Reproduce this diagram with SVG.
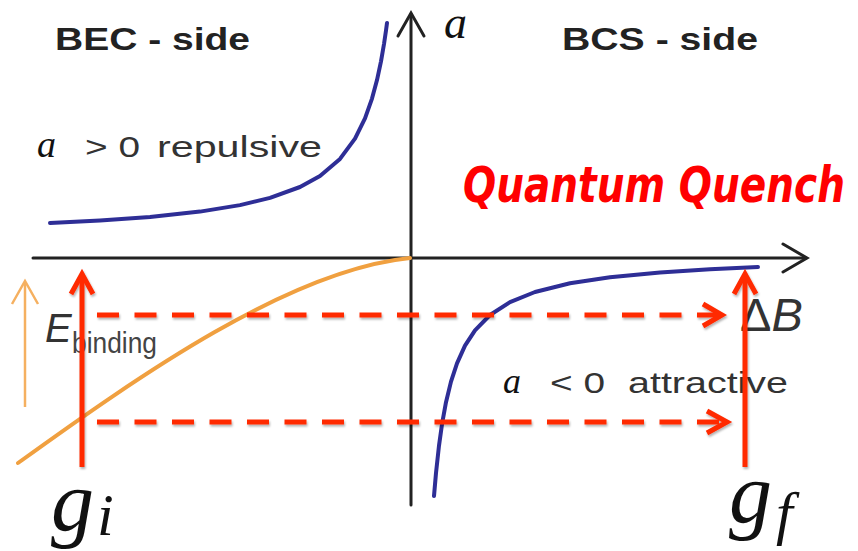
<svg xmlns="http://www.w3.org/2000/svg" width="858" height="551" viewBox="0 0 858 551">
<defs>
<style>
.axis{stroke:#222;stroke-width:3;fill:none;stroke-linecap:round;stroke-linejoin:miter}
.blue{stroke:#2e2e96;stroke-width:4;fill:none;stroke-linejoin:round;stroke-linecap:round}
.orange{stroke:#f0a040;stroke-width:4;fill:none;stroke-linecap:round}
.oarrow{stroke:#f5b060;stroke-width:2.5;fill:none}
.red{stroke:#ff2a00;stroke-width:5;fill:none}
.dash{stroke-dasharray:22 15.5}
.hdr{font-family:"Liberation Sans",Arial,sans-serif;font-weight:bold;font-size:32px;fill:#222}
.lbl{font-family:"Liberation Sans",Arial,sans-serif;font-size:30px;fill:#333}
.math{font-family:"Liberation Serif","Times New Roman",serif;font-style:italic;fill:#111}
</style>
<filter id="sh" x="-10%" y="-10%" width="120%" height="130%">
<feDropShadow dx="1" dy="2" stdDeviation="1.2" flood-color="#000" flood-opacity="0.3"/>
</filter>
</defs>
<rect width="858" height="551" fill="#fff"/>
<g id="axes">
<line class="axis" x1="33" y1="258" x2="806" y2="258"/>
<polyline class="axis" points="783,244 807,258 783,272"/>
<line class="axis" x1="411" y1="505" x2="411" y2="14"/>
<polyline class="axis" points="398,36 411,13 424,36"/>
</g>
<g id="curves">
<polyline class="blue" points="50,223 100,220.5 150,216.9 200,211.6 240,205.1 270,197.9 300,187 320,175.9 340,158.9 355,138.6 365,118.4 372,98.6 377,80.1 381,61.3 384,44 386,30.5 387,23"/>
<polyline class="blue" points="434,496 436,473 439,445.6 442,424.2 446,402.2 451,381.6 457,363.3 465,345.7 475,330.4 490,315 510,302.1 535,292 570,283.3 610,277.2 660,272.4 710,269.2 758,267"/>
<path class="orange" d="M18,463 C140,375 290,270 410,258"/>
<line class="oarrow" x1="25" y1="407" x2="25" y2="282"/>
<polyline class="oarrow" points="12,304 25,281 38,304"/>
</g>
<g id="labels">
<text class="hdr" x="55" y="50" textLength="195" lengthAdjust="spacingAndGlyphs">BEC - side</text>
<text class="hdr" x="562" y="50" textLength="196" lengthAdjust="spacingAndGlyphs">BCS - side</text>
<text class="math" x="444" y="38" font-size="46" fill="#222">a</text>
<text class="math" x="37" y="157" font-size="38" fill="#333">a</text>
<text class="lbl" x="85" y="157" textLength="55" lengthAdjust="spacingAndGlyphs">&gt; 0</text>
<text class="lbl" x="157" y="157" textLength="165" lengthAdjust="spacingAndGlyphs">repulsive</text>
<text class="math" x="503" y="393" font-size="36" fill="#666">a</text>
<text class="lbl" x="550" y="393" fill="#555" textLength="55" lengthAdjust="spacingAndGlyphs">&lt; 0</text>
<text class="lbl" x="628" y="393" fill="#555" textLength="160" lengthAdjust="spacingAndGlyphs">attractive</text>
<text x="740" y="331" font-family="Liberation Sans,Arial,sans-serif" font-size="47" fill="#333">Δ<tspan font-style="italic">B</tspan></text>
<text x="45" y="342" font-family="Liberation Sans,Arial,sans-serif" font-size="40" font-style="italic" fill="#333">E</text>
<text x="72" y="353" font-family="Liberation Sans,Arial,sans-serif" font-size="30" fill="#444" textLength="85" lengthAdjust="spacingAndGlyphs">binding</text>
<text x="463" y="202" font-family="'Comic Sans MS','DejaVu Sans',sans-serif" font-weight="bold" font-style="italic" font-size="50" fill="#ff0000" textLength="382" lengthAdjust="spacingAndGlyphs">Quantum Quench</text>
<text class="math" x="51" y="530" font-size="86">g</text>
<text class="math" x="97" y="535" font-size="60">i</text>
<text class="math" x="729" y="522" font-size="86">g</text>
<text class="math" x="776" y="533" font-size="60">f</text>
</g>
<g id="quench-arrows" filter="url(#sh)">
<line class="red dash" x1="97" y1="315" x2="721" y2="315"/>
<polyline class="red" points="703,304 722,315 703,326"/>
<line class="red dash" x1="97" y1="422" x2="726" y2="422"/>
<polyline class="red" points="707,411 727,422 707,433"/>
<line class="red" x1="82" y1="467" x2="82" y2="275"/>
<polyline class="red" points="71,294 82,274 93,294"/>
<line class="red" x1="745" y1="467" x2="745" y2="275"/>
<polyline class="red" points="734,294 745,274 756,294"/>
</g>
</svg>
